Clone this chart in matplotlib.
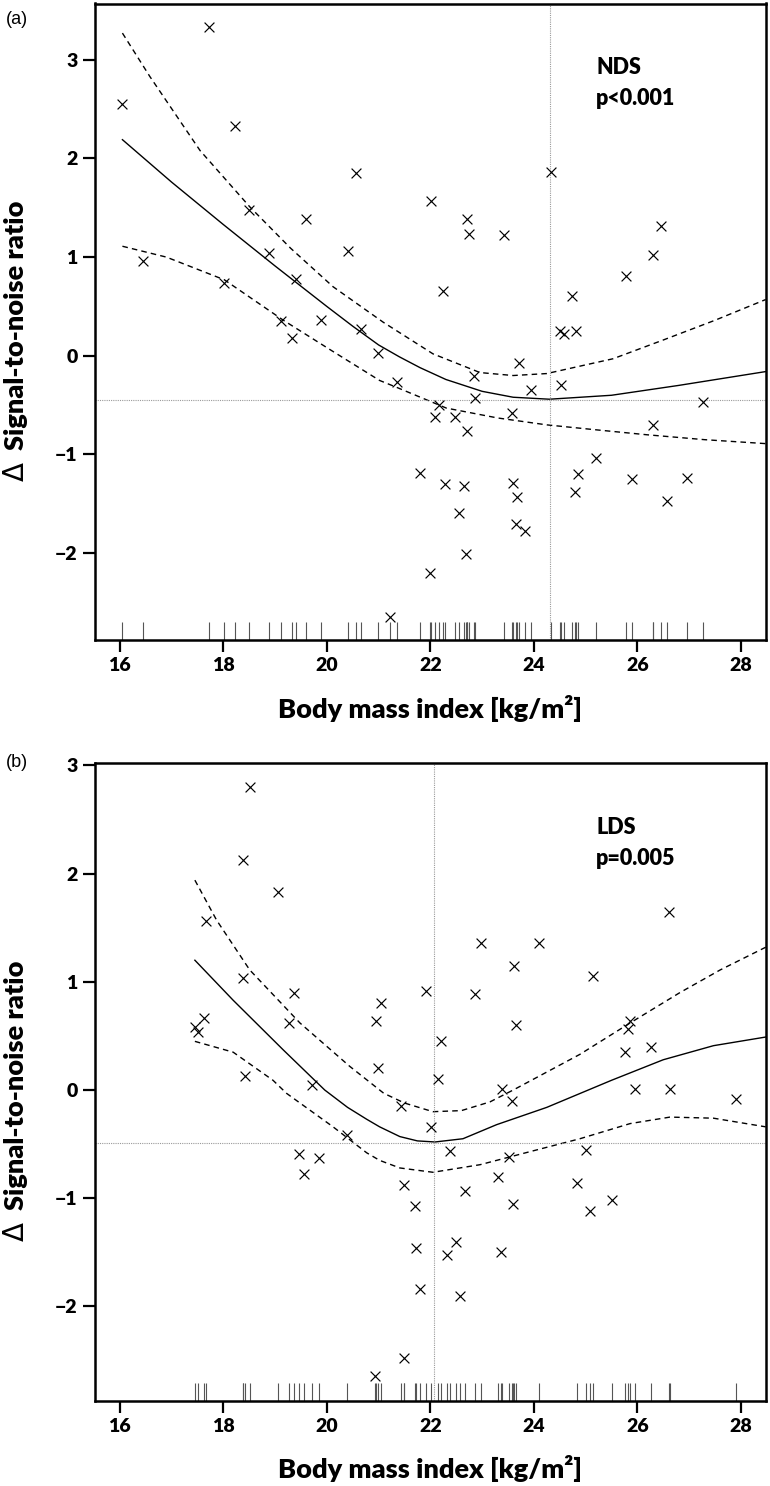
import matplotlib
matplotlib.use('Agg')
import matplotlib.pyplot as plt

plt.rcParams['font.family'] = ['Lato', 'DejaVu Sans']

# ---------------- Panel (a): NDS ----------------
a_x = [16.05, 16.44, 17.73, 18.22, 18.02, 18.50, 18.89, 19.60, 19.40, 19.11,
       19.33, 19.88, 20.40, 20.57, 20.66, 20.98, 21.35, 21.22, 22.02, 22.71,
       22.75, 23.42, 22.25, 24.33, 26.45, 26.31, 25.78, 24.73, 24.50, 24.59,
       24.81, 23.71, 22.85, 23.95, 24.52, 22.86, 22.17, 22.09, 22.47, 23.57,
       22.70, 27.26, 26.31, 21.80, 22.29, 22.65, 23.59, 23.67, 22.56, 23.65,
       23.83, 22.68, 22.00, 25.20, 24.86, 24.80, 25.90, 26.96, 26.58]
a_y = [2.55, 0.96, 3.33, 2.33, 0.74, 1.48, 1.04, 1.39, 0.78, 0.35,
       0.18, 0.36, 1.06, 1.85, 0.27, 0.03, -0.27, -2.65, 1.57, 1.39,
       1.23, 1.22, 0.66, 1.86, 1.32, 1.02, 0.81, 0.61, 0.25, 0.22,
       0.25, -0.07, -0.20, -0.35, -0.30, -0.43, -0.50, -0.62, -0.62, -0.58,
       -0.76, -0.47, -0.70, -1.19, -1.30, -1.32, -1.29, -1.43, -1.59, -1.70,
       -1.78, -2.01, -2.20, -1.04, -1.20, -1.38, -1.25, -1.24, -1.47]

a_fit_x = [16.05, 17.0, 18.0, 19.0, 20.0, 20.5, 21.0, 21.4, 21.8, 22.3, 23.0, 23.6, 24.3, 25.5, 26.8, 28.48]
a_fit_y = [2.19, 1.76, 1.33, 0.91, 0.50, 0.30, 0.11, -0.01, -0.12, -0.24, -0.36, -0.42, -0.44, -0.40, -0.30, -0.16]
a_up_x = [16.05, 16.58, 17.55, 18.51, 19.3, 20.12, 21.09, 22.05, 22.96, 23.6, 24.25, 25.53, 26.5, 27.5, 28.48]
a_up_y = [3.27, 2.83, 2.08, 1.51, 1.09, 0.70, 0.34, 0.02, -0.17, -0.20, -0.18, -0.03, 0.16, 0.36, 0.57]
a_lo_x = [16.05, 16.9, 18.02, 19.16, 20.1, 21.02, 21.35, 22.31, 23.3, 24.25, 25.2, 26.18, 27.3, 28.48]
a_lo_y = [1.11, 1.00, 0.77, 0.36, 0.05, -0.25, -0.32, -0.53, -0.63, -0.70, -0.75, -0.80, -0.85, -0.89]
a_vref, a_href = 24.31, -0.45

# ---------------- Panel (b): LDS ----------------
b_x = [18.51, 18.38, 19.05, 17.67, 18.38, 19.37, 19.26, 17.62, 17.45, 17.51,
       18.42, 19.72, 21.04, 20.95, 20.99, 20.38, 19.47, 19.85, 19.56, 20.93,
       26.61, 22.98, 24.09, 23.62, 25.15, 21.91, 22.87, 23.65, 25.86, 25.82,
       25.77, 26.27, 22.20, 22.14, 23.39, 23.58, 25.95, 26.63, 27.90, 21.44,
       22.02, 22.38, 23.52, 25.00, 23.31, 21.49, 22.67, 24.84, 25.51, 25.08,
       21.71, 23.59, 21.73, 22.49, 22.33, 23.36, 21.80, 22.58, 21.49]
b_y = [2.80, 2.13, 1.83, 1.56, 1.04, 0.90, 0.62, 0.67, 0.58, 0.54,
       0.13, 0.05, 0.80, 0.64, 0.20, -0.42, -0.59, -0.63, -0.78, -2.64,
       1.65, 1.36, 1.36, 1.15, 1.05, 0.92, 0.89, 0.60, 0.64, 0.56,
       0.35, 0.40, 0.45, 0.10, 0.01, -0.10, 0.01, 0.01, -0.08, -0.15,
       -0.34, -0.56, -0.62, -0.55, -0.80, -0.88, -0.93, -0.86, -1.02, -1.12,
       -1.07, -1.05, -1.46, -1.40, -1.52, -1.50, -1.84, -1.90, -2.48]

b_fit_x = [17.45, 18.19, 19.16, 19.96, 20.4, 20.77, 21.02, 21.41, 21.75, 22.09, 22.63, 23.28, 24.25, 24.8, 25.5, 26.5, 27.47, 28.48]
b_fit_y = [1.20, 0.83, 0.37, 0.00, -0.16, -0.27, -0.34, -0.43, -0.47, -0.48, -0.45, -0.32, -0.16, -0.05, 0.09, 0.28, 0.41, 0.49]
b_up_x = [17.45, 17.87, 18.51, 19.48, 20.44, 21.1, 21.5, 22.05, 22.6, 23.15, 23.6, 24.89, 25.86, 26.82, 27.6, 28.48]
b_up_y = [1.94, 1.57, 1.11, 0.62, 0.22, -0.03, -0.12, -0.20, -0.19, -0.11, 0.00, 0.33, 0.62, 0.90, 1.11, 1.32]
b_lo_x = [17.45, 18.19, 18.96, 19.22, 20.12, 20.77, 21.02, 21.41, 22.05, 22.96, 23.92, 24.89, 25.86, 26.63, 27.47, 28.48]
b_lo_y = [0.45, 0.35, 0.09, -0.03, -0.34, -0.58, -0.65, -0.72, -0.76, -0.69, -0.57, -0.45, -0.31, -0.25, -0.26, -0.34]
b_vref, b_href = 22.07, -0.487

x_ticks = [16, 18, 20, 22, 24, 26, 28]
y_ticks = [-2, -1, 0, 1, 2, 3]
xlabel = 'Body mass index [kg/m²]'
ylabel_symbol = 'Δ'
ylabel_text = 'Signal-to-noise ratio'

W, H = 770, 1486
fig = plt.figure(figsize=(W / 100, H / 100), dpi=100)
ax_a = fig.add_axes([95 / W, 1 - 640 / H, 670.7 / W, 636.5 / H])
ax_b = fig.add_axes([95 / W, 1 - 1401 / H, 670.7 / W, 637.7 / H])

HEAVY = 'heavy'


def draw(ax, xs, ys, fx, fy, ux, uy, lx, ly, vref, href, ylim, name, ptxt):
    ax.plot(fx, fy, color='black', lw=1.0)
    ax.plot(ux, uy, color='black', lw=1.0, ls=(0, (4, 3)))
    ax.plot(lx, ly, color='black', lw=1.0, ls=(0, (4, 3)))
    ax.axvline(vref, color='#9a9a9a', lw=0.8, ls=(0, (1, 1)))
    ax.axhline(href, color='#9a9a9a', lw=0.8, ls=(0, (1, 1)))
    ax.vlines(xs, 0, 0.029, transform=ax.get_xaxis_transform(), color='#555555', lw=0.8)
    ax.scatter(xs, ys, marker='x', s=50, color='black', linewidths=0.85, zorder=3)
    ax.set_xlim(15.52, 28.48)
    ax.set_ylim(*ylim)
    ax.set_xticks(x_ticks)
    ax.set_yticks(y_ticks)
    for s in ax.spines.values():
        s.set_linewidth(1.8)
    ax.tick_params(direction='out', length=8.5, width=1.6, labelsize=14, pad=4)
    for lab in ax.get_xticklabels() + ax.get_yticklabels():
        lab.set_fontweight(HEAVY)
    ax.text(0.747, 0.889, name, transform=ax.transAxes, fontsize=15.5,
            fontweight=HEAVY, va='baseline', ha='left')
    ax.text(0.747, 0.840, ptxt, transform=ax.transAxes, fontsize=15.5,
            fontweight=HEAVY, va='baseline', ha='left')


draw(ax_a, a_x, a_y, a_fit_x, a_fit_y, a_up_x, a_up_y, a_lo_x, a_lo_y,
     a_vref, a_href, (-2.88, 3.57), 'NDS', 'p<0.001')
draw(ax_b, b_x, b_y, b_fit_x, b_fit_y, b_up_x, b_up_y, b_lo_x, b_lo_y,
     b_vref, b_href, (-2.874, 3.02), 'LDS', 'p=0.005')

# panel letters
fig.text(6 / W, 1 - 20 / H, '(a)', fontsize=13, va='center', ha='left',
         family=['Liberation Sans', 'DejaVu Sans'])
fig.text(6 / W, 1 - 762 / H, '(b)', fontsize=13, va='center', ha='left',
         family=['Liberation Sans', 'DejaVu Sans'])

# axis labels: thin delta symbol followed by bold text, rotated
for y_delta, y_text in ((481, 450), (1241, 1210)):
    fig.text(24 / W, 1 - y_delta / H, ylabel_symbol, rotation=90,
             rotation_mode='anchor', ha='left', va='baseline',
             fontsize=20, fontweight='normal', family=['DejaVu Sans'])
    fig.text(24 / W, 1 - y_text / H, ylabel_text, rotation=90,
             rotation_mode='anchor', ha='left', va='baseline',
             fontsize=19.5, fontweight=HEAVY)
for ytop in (695, 1455):
    fig.text(430 / W, 1 - ytop / H, xlabel, ha='center', va='top',
             fontsize=19.5, fontweight=HEAVY)

fig.savefig('out.png', dpi=100)
